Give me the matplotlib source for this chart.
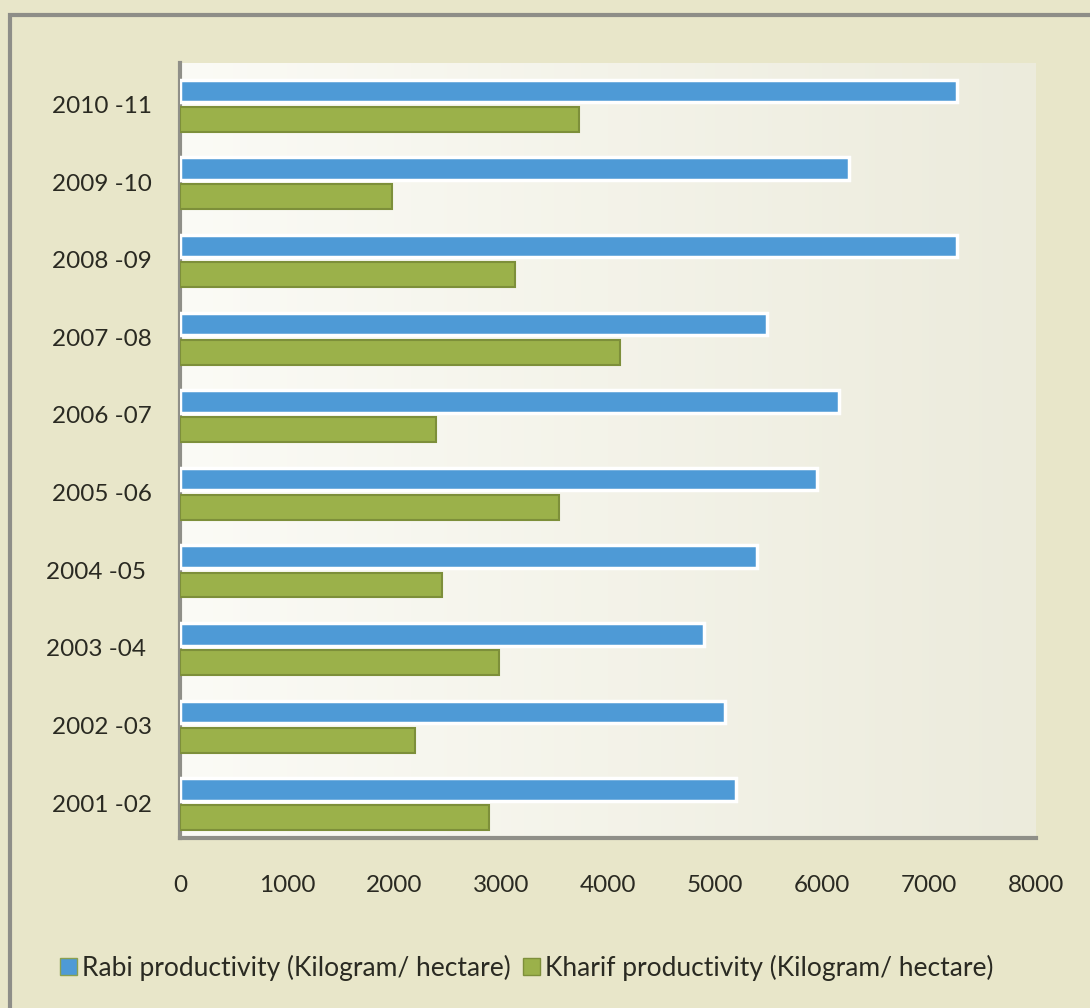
import numpy as np
import matplotlib.pyplot as plt
from matplotlib.patches import Rectangle, Patch

plt.rcParams['font.family'] = ['Lato', 'DejaVu Sans']

# Crop productivity by season, 2001-02 to 2010-11
years = ['2001 -02', '2002 -03', '2003 -04 ', '2004 -05 ', '2005 -06',
         '2006 -07', '2007 -08', '2008 -09', '2009 -10', '2010 -11']
rabi = [5200, 5090, 4900, 5390, 5950, 6160, 5490, 7260, 6250, 7260]
kharif = [2890, 2200, 2980, 2450, 3540, 2390, 4110, 3130, 1980, 3730]
xticks = [0, 1000, 2000, 3000, 4000, 5000, 6000, 7000, 8000]

blue = '#4e9ad6'
green = '#9bb14a'
page_bg = '#e8e6c9'
text_col = '#2a2a22'

fig = plt.figure(figsize=(10.9, 10.08), dpi=100, facecolor=page_bg)

# Outer frame around the whole chart
fig.patches.append(Rectangle((10 / 1090, -0.1), 1.2, 0.1 + (1008 - 15) / 1008,
                             transform=fig.transFigure, fill=False,
                             edgecolor='#8e8e88', linewidth=3, zorder=0))

ax = fig.add_axes([180 / 1090, 170 / 1008, 856 / 1090, 775 / 1008])
ax.set_facecolor('none')

# Soft left-to-right gradient behind the bars
grad = np.linspace(0, 1, 256).reshape(1, -1)
cmap = plt.matplotlib.colors.LinearSegmentedColormap.from_list(
    'plotbg', ['#fbfbf6', '#ecebdc'])
ax.imshow(grad, extent=[0, 1, 0, 1], transform=ax.transAxes, aspect='auto',
          cmap=cmap, zorder=0)

y = np.arange(len(years))
h = 0.29
ax.barh(y + 0.175, rabi, height=h, color=blue, edgecolor='white',
        linewidth=2.5, zorder=3, label='Rabi productivity (Kilogram/ hectare)')
ax.barh(y - 0.19, kharif, height=h + 0.03, color=green, edgecolor='#7d8f3a',
        linewidth=1.5, zorder=3, label='Kharif productivity (Kilogram/ hectare)')

ax.set_xlim(0, 8000)
ax.set_ylim(-0.45, 9.535)
ax.set_xticks(xticks)
ax.set_xticklabels([str(t) for t in xticks])
ax.set_yticks(y)
ax.set_yticklabels(years)
ax.tick_params(axis='both', length=0, labelsize=17.5, colors=text_col)
ax.tick_params(axis='x', pad=27)
ax.tick_params(axis='y', pad=20)

for side in ['top', 'right']:
    ax.spines[side].set_visible(False)
for side in ['left', 'bottom']:
    ax.spines[side].set_color('#8f8f88')
    ax.spines[side].set_linewidth(3)

handles = [Patch(facecolor=blue, edgecolor='#8aa050', linewidth=1),
           Patch(facecolor=green, edgecolor='#7d8f3a', linewidth=1)]
leg = fig.legend(handles, ['Rabi productivity (Kilogram/ hectare)',
                           'Kharif productivity (Kilogram/ hectare)'],
                 loc='center left', bbox_to_anchor=(0.045, 0.04), ncol=2,
                 frameon=False, fontsize=19, handlelength=0.65,
                 handleheight=0.65, handletextpad=0.2, columnspacing=0.45,
                 borderaxespad=0)
for t in leg.get_texts():
    t.set_color(text_col)

fig.savefig('out.png', dpi=100, facecolor=page_bg)
